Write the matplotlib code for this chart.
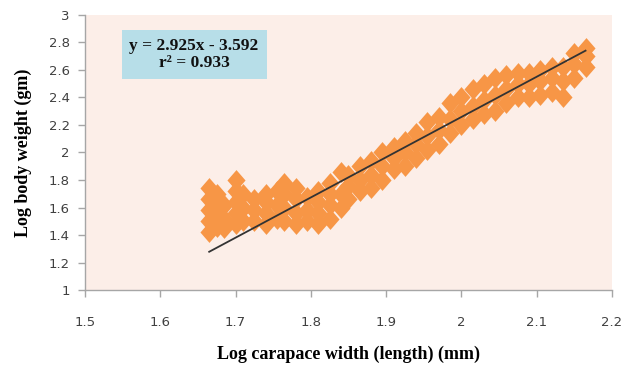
import numpy as np
import matplotlib.pyplot as plt

# valores (log ancho caparazon vs log peso)
log_ancho = [
    1.665, 1.665, 1.665, 1.665, 1.665,
    1.675, 1.675, 1.675, 1.675,
    1.685, 1.685, 1.685,
    1.700, 1.700, 1.700, 1.700, 1.700,
    1.710, 1.710, 1.710,
    1.725, 1.725, 1.725,
    1.740, 1.740, 1.740, 1.740,
    1.755, 1.755, 1.755,
    1.765, 1.765, 1.765, 1.765,
    1.780, 1.780, 1.780, 1.780,
    1.795, 1.795, 1.795,
    1.810, 1.810, 1.810, 1.810,
    1.825, 1.825, 1.825, 1.825,
    1.840, 1.840, 1.840,
    1.850, 1.850, 1.850,
    1.865, 1.865, 1.865,
    1.880, 1.880, 1.880,
    1.895, 1.895, 1.895,
    1.910, 1.910, 1.910,
    1.925, 1.925, 1.925,
    1.940, 1.940, 1.940,
    1.955, 1.955, 1.955,
    1.970, 1.970, 1.970,
    1.985, 1.985, 1.985,
    2.000, 2.000, 2.000,
    2.015, 2.015, 2.015,
    2.030, 2.030, 2.030,
    2.045, 2.045, 2.045,
    2.060, 2.060, 2.060,
    2.075, 2.075, 2.075,
    2.090, 2.090, 2.090,
    2.105, 2.105, 2.105,
    2.120, 2.120, 2.120,
    2.135, 2.135, 2.135,
    2.150, 2.150, 2.150,
    2.165, 2.165, 2.165,
]
log_peso = [
    1.42, 1.50, 1.58, 1.66, 1.74,
    1.46, 1.55, 1.63, 1.70,
    1.45, 1.52, 1.62,
    1.48, 1.56, 1.64, 1.72, 1.80,
    1.50, 1.60, 1.70,
    1.50, 1.58, 1.66,
    1.48, 1.56, 1.64, 1.70,
    1.52, 1.62, 1.72,
    1.50, 1.60, 1.70, 1.78,
    1.48, 1.56, 1.66, 1.74,
    1.50, 1.58, 1.68,
    1.48, 1.56, 1.64, 1.72,
    1.52, 1.62, 1.70, 1.78,
    1.60, 1.70, 1.86,
    1.66, 1.76, 1.84,
    1.72, 1.80, 1.90,
    1.74, 1.84, 1.94,
    1.80, 1.90, 2.00,
    1.88, 1.96, 2.04,
    1.90, 2.00, 2.08,
    1.96, 2.06, 2.14,
    2.02, 2.12, 2.22,
    2.06, 2.16, 2.26,
    2.14, 2.24, 2.36,
    2.20, 2.30, 2.40,
    2.24, 2.34, 2.46,
    2.28, 2.38, 2.50,
    2.30, 2.42, 2.54,
    2.36, 2.46, 2.56,
    2.40, 2.50, 2.58,
    2.40, 2.50, 2.58,
    2.42, 2.52, 2.60,
    2.44, 2.54, 2.62,
    2.40, 2.52, 2.62,
    2.54, 2.64, 2.72,
    2.62, 2.70, 2.76,
]

# recta de regresion
pendiente = 2.925
intercepto = -3.592
rango_x = [1.665, 2.165]
r2 = 0.933

x_ticks = [1.5, 1.6, 1.7, 1.8, 1.9, 2.0, 2.1, 2.2]
x_labels = ["1.5", "1.6", "1.7", "1.8", "1.9", "2", "2.1", "2.2"]
y_ticks = [1.0, 1.2, 1.4, 1.6, 1.8, 2.0, 2.2, 2.4, 2.6, 2.8, 3.0]
y_labels = ["1", "1.2", "1.4", "1.6", "1.8", "2", "2.2", "2.4", "2.6", "2.8", "3"]

fig = plt.figure(figsize=(6.25, 3.71), dpi=100)
ax = fig.add_axes([0.136, 0.2183, 0.843, 0.7413])
ax.set_facecolor("#FCEEE8")

# rombo algo mas alto que ancho, como en Excel
rombo = [(0, -1.15), (1, 0), (0, 1.15), (-1, 0), (0, -1.15)]
ax.plot(log_ancho, log_peso, ls="none", marker=rombo, ms=15,
        color="#F79646", markeredgewidth=0, zorder=2)

xr = np.array(rango_x)
ax.plot(xr, pendiente * xr + intercepto, color="#333333", lw=1.3, zorder=3)

ax.set_xlim(1.5, 2.2)
ax.set_ylim(1, 3)
ax.set_xticks(x_ticks)
ax.set_xticklabels(x_labels)
ax.set_yticks(y_ticks)
ax.set_yticklabels(y_labels)

for s in ["top", "right"]:
    ax.spines[s].set_visible(False)
for s in ["left", "bottom"]:
    ax.spines[s].set_color("#A6A6A6")
    ax.spines[s].set_linewidth(1.0)

ax.tick_params(axis="both", colors="#A6A6A6", labelcolor="#404040",
               labelsize=9.5, length=5, width=1)
ax.tick_params(axis="x", pad=14)
ax.tick_params(axis="y", pad=6)

ax.set_xlabel("Log carapace width (length) (mm)", family="Liberation Serif",
              fontweight="bold", fontsize=13, labelpad=12)
ax.set_ylabel("Log body weight (gm)", family="Liberation Serif",
              fontweight="bold", fontsize=13, labelpad=12)

ecuacion = "y = %.3fx - %.3f\nr\u00b2 = %.3f" % (pendiente, -intercepto, r2)
ax.text(0.207, 0.856, ecuacion, transform=ax.transAxes, ha="center", va="center",
        family="Liberation Serif", fontweight="bold", fontsize=12.5,
        linespacing=1.1, color="#111111",
        bbox=dict(boxstyle="square,pad=0.45", fc="#B7DEE8", ec="none"))

fig.savefig("out.png", dpi=100)
